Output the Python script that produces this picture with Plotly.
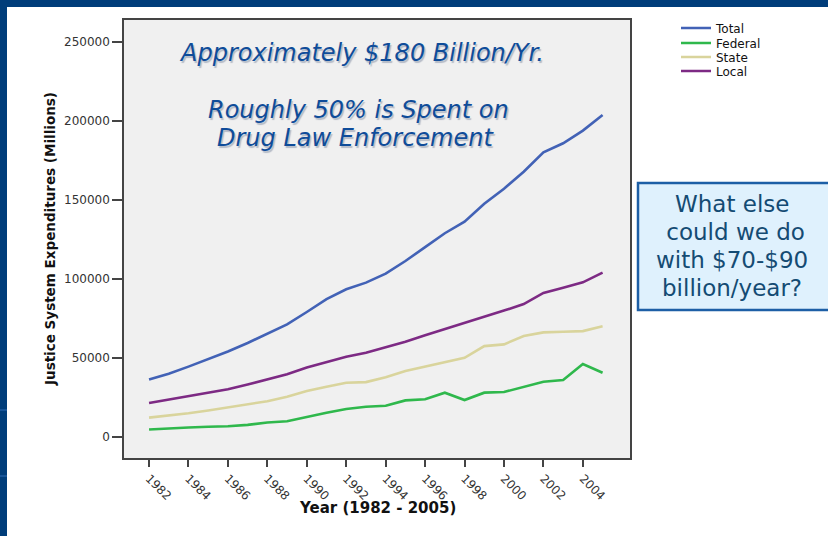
import plotly.graph_objects as go

years = list(range(1982, 2006))
total = [36100, 39800, 44300, 48900, 53900, 59300, 65300, 71000, 78900, 87100,
         93300, 97500, 103200, 111200, 120000, 128800, 136100, 147500, 157000,
         167800, 180000, 185800, 193800, 203700]
federal = [4500, 4900, 5700, 6200, 6500, 7400, 8900, 9700, 12600, 15100, 17400,
           18900, 19500, 22900, 23600, 27800, 23100, 27800, 28200, 31300, 34700,
           35800, 45900, 40400]
state = [12000, 13200, 14700, 16500, 18500, 20300, 22400, 25200, 28800, 31600,
         34100, 34500, 37500, 41500, 44200, 46800, 49900, 57300, 58400, 63700,
         66000, 66400, 66800, 69800]
local = [21200, 23400, 25600, 27800, 30000, 33000, 36200, 39400, 43800, 47400,
         50600, 53100, 56500, 60100, 64100, 67900, 71800, 75800, 79800, 83900,
         91000, 94300, 97700, 103800]
tick_years = list(range(1982, 2005, 2))

series = [("Total", total, "#4262b6"), ("Federal", federal, "#2fb84c"),
          ("State", state, "#d9d49c"), ("Local", local, "#7d2a84")]

W, H = 828, 536
L, R, T, B = 124, 630, 20, 458


def px(x):
    return (x - L) / (R - L)


def py(y):
    return (B - y) / (B - T)


fig = go.Figure()
legend_ys = [28, 43, 57, 71]
legend_ids = ["legend", "legend2", "legend3", "legend4"]
for (name, vals, col), lid in zip(series, legend_ids):
    fig.add_trace(go.Scatter(x=years, y=vals, mode="lines", name=name, legend=lid,
                             line=dict(color=col, width=2.6)))

shapes = [
    dict(type="rect", xref="paper", yref="paper", x0=px(0), x1=px(7), y0=py(536), y1=py(0),
         fillcolor="#003d7a", line=dict(width=0), layer="below"),
    dict(type="rect", xref="paper", yref="paper", x0=px(0), x1=px(828), y0=py(7), y1=py(0),
         fillcolor="#003d7a", line=dict(width=0), layer="below"),
    dict(type="line", xref="paper", yref="paper", x0=px(0), x1=px(7), y0=py(410), y1=py(410),
         line=dict(color="#2e6db5", width=1)),
    dict(type="line", xref="paper", yref="paper", x0=px(0), x1=px(7), y0=py(476), y1=py(476),
         line=dict(color="#2e6db5", width=1)),
    dict(type="rect", xref="paper", yref="paper", x0=px(638), x1=px(831), y0=py(310), y1=py(183),
         fillcolor="#dff1fd", line=dict(color="#1d5fa6", width=2.5)),
]

ann = []
txt_col = "#0f4c99"
for text, cx, cy in [("Approximately $180 Billion/Yr.", 361, 53),
                     ("Roughly 50% is Spent on", 358, 110),
                     ("Drug Law Enforcement", 355, 138)]:
    ann.append(dict(text=text, xref="paper", yref="paper", x=px(cx), y=py(cy),
                    xanchor="center", yanchor="middle", showarrow=False,
                    font=dict(family="DejaVu Sans", size=24, color=txt_col, style="italic",
                              shadow="1.5px 1.5px 1px #b4bac6")))

for text, cy in [("What else", 204), (" could we do", 232), ("with $70-$90", 260),
                 ("billion/year?", 288)]:
    ann.append(dict(text=text, xref="paper", yref="paper", x=px(732), y=py(cy),
                    xanchor="center", yanchor="middle", showarrow=False,
                    font=dict(family="DejaVu Sans", size=23, color="#144b73")))

ann.append(dict(text="<b>Year (1982 - 2005)</b>", xref="paper", yref="paper",
                x=px(377), y=py(508), xanchor="center", yanchor="middle", showarrow=False,
                font=dict(family="DejaVu Sans", size=15, color="#111")))
ann.append(dict(text="<b>Justice System Expenditures (Millions)</b>", xref="paper", yref="paper",
                x=px(50), y=py(239), xanchor="center", yanchor="middle", showarrow=False,
                textangle=-90, font=dict(family="DejaVu Sans", size=13.5, color="#111")))

legend_common = dict(xanchor="left", yanchor="middle", bgcolor="rgba(0,0,0,0)",
                     font=dict(family="DejaVu Sans", size=12, color="#111"))
layout_legends = {}
for lid, ly in zip(legend_ids, legend_ys):
    layout_legends[lid] = dict(x=px(676), y=py(ly), **legend_common)

fig.update_layout(
    width=W, height=H,
    margin=dict(l=L, r=W - R, t=T, b=H - B),
    paper_bgcolor="white", plot_bgcolor="#f0f0f0",
    shapes=shapes, annotations=ann,
    showlegend=True,
    xaxis=dict(range=[1980.73, 2006.39], tickmode="array", tickvals=tick_years,
               ticktext=[str(y) for y in tick_years],
               showgrid=False, zeroline=False, showline=True, mirror=True,
               linecolor="#444", linewidth=1.5, ticks="outside", ticklen=7,
               tickcolor="#444", tickwidth=1.5, tickangle=45,
               tickfont=dict(family="DejaVu Sans", size=12, color="#333")),
    yaxis=dict(range=[-13600, 263900], tickmode="linear", tick0=0, dtick=50000,
               tickformat="d", showgrid=False, zeroline=False, showline=True,
               mirror=True, linecolor="#444", linewidth=1.5, ticks="outside",
               ticklen=10, tickcolor="#444", tickwidth=1.5,
               tickfont=dict(family="DejaVu Sans", size=12, color="#333")),
    **layout_legends,
)

fig.write_html("out.html", config={"displayModeBar": False},
               post_script="document.body.style.margin='0px';"
                           "document.documentElement.style.overflow='hidden';")
